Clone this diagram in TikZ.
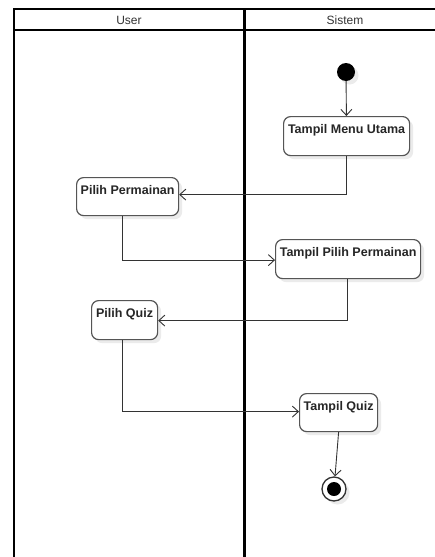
\documentclass[tikz,border=0pt]{standalone}
\usepackage{fontspec}
\setmainfont{Liberation Sans}
\usetikzlibrary{arrows.meta,shadows,positioning}

\definecolor{boxline}{HTML}{555555}
\definecolor{flowline}{HTML}{333333}

\tikzset{
  softshadow/.style={drop shadow={shadow xshift=3.5pt, shadow yshift=-3.5pt, fill=black!8, opacity=1}},
  actbox/.style={draw=boxline, line width=1.2pt, fill=white, rounded corners=7pt,
    anchor=north west, inner sep=0pt, softshadow},
  acttext/.style={font=\bfseries\fontsize{12.5}{14}\selectfont, text=black!85, inner sep=0pt, anchor=base},
  lanehead/.style={font=\fontsize{12}{14}\selectfont, text=black!80, inner sep=0pt, anchor=base},
  flow/.style={draw=flowline, line width=0.9pt, -{Straight Barb[length=6pt,width=11pt,line width=0.9pt]}},
  frameline/.style={draw=black, line width=1.6pt},
  laneline/.style={draw=black, line width=3pt},
}

\begin{document}
\begin{tikzpicture}[x=1pt,y=-1pt]
  \useasboundingbox (0,0) rectangle (435,557);
  \fill[white] (0,0) rectangle (435,557);

  % swimlane frame
  \draw[frameline] (14,557) -- (14,9) -- (450,9);
  \draw[frameline] (14,30) -- (450,30);
  \draw[laneline] (244,9) -- (244,557);
  \node[lanehead] (userhead) at (129,24) {User};
  \node[lanehead] (sistemhead) at (345,24) {Sistem};

  % start and end states
  \node[circle, fill=black, minimum size=18pt, inner sep=0pt, softshadow] (start) at (346,72) {};
  \node[circle, draw=flowline, line width=1.3pt, fill=white, minimum size=24pt, inner sep=0pt, softshadow] (finish) at (334,489) {};
  \node[circle, fill=black, minimum size=14pt, inner sep=0pt] (finishdot) at (finish.center) {};

  % activities
  \node[actbox, minimum width=126pt, minimum height=39pt] (menu) at (283,116) {};
  \node[acttext] (menutxt) at ([yshift=-17.5pt]menu.north) {Tampil Menu Utama};

  \node[actbox, minimum width=102pt, minimum height=38pt] (pilihperm) at (76,177) {};
  \node[acttext] (pilihpermtxt) at ([yshift=-17.5pt]pilihperm.north) {Pilih Permainan};

  \node[actbox, minimum width=145pt, minimum height=39pt] (tampilperm) at (275,239) {};
  \node[acttext] (tampilpermtxt) at ([yshift=-17.5pt]tampilperm.north) {Tampil Pilih Permainan};

  \node[actbox, minimum width=66pt, minimum height=39pt] (pilihquiz) at (91,300) {};
  \node[acttext] (pilihquiztxt) at ([yshift=-17.5pt]pilihquiz.north) {Pilih Quiz};

  \node[actbox, minimum width=78pt, minimum height=38pt] (tampilquiz) at (299,393) {};
  \node[acttext] (tampilquiztxt) at ([yshift=-17.5pt]tampilquiz.north) {Tampil Quiz};

  % control flow
  \draw[flow] (start) -- (menu);
  \draw[flow] (menu.south) |- ([yshift=2pt]pilihperm.east);
  \draw[flow] ([xshift=-5pt]pilihperm.south) |- ([yshift=-1pt]tampilperm.west);
  \draw[flow] ([xshift=-1pt]tampilperm.south) |- ([yshift=-0.5pt]pilihquiz.east);
  \draw[flow] ([xshift=-2pt]pilihquiz.south) |- ([yshift=1pt]tampilquiz.west);
  \draw[flow] (tampilquiz.south) -- (finish);
\end{tikzpicture}
\end{document}
